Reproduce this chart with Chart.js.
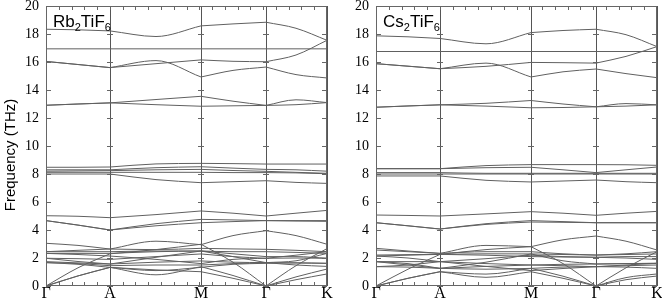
<!DOCTYPE html>
<html>
<head>
<meta charset="utf-8">
<script src="https://cdn.jsdelivr.net/npm/chart.js@4.4.1/dist/chart.umd.min.js"></script>
<style>
body { margin: 0; background: #fff; overflow: hidden; }
#wrap { position: relative; width: 662px; height: 301px; }
.panel { position: absolute; top: 0; width: 345px; height: 301px; }
</style>
</head>
<body>
<div id="wrap">
  <div class="panel" style="left:0"><canvas id="rb" width="345" height="301"></canvas></div>
  <div class="panel" style="left:331px"><canvas id="cs" width="345" height="301"></canvas></div>
</div>
<script>
// high symmetry points along the path
const symLabels = ['Γ', 'A', 'M', 'Γ', 'K'];
const symPos = [0, 64, 155, 220, 281];
// k positions where each branch is sampled: Γ, ½, A, ½, M, ½, Γ, ½, K
const kPath = [0, 32, 64, 110, 155, 187, 220, 250, 281];
const segBreaks = [2, 4, 6]; // indexes of A, M, Γ in kPath
const yTicks = [0, 2, 4, 6, 8, 10, 12, 14, 16, 18, 20];

// Rb2TiF6 phonon branches (THz)
const rbBands = [
  [18.34, 18.30, 18.22, 17.82, 18.58, 18.72, 18.84, 18.41, 17.55],
  [16.94, 16.94, 16.94, 16.94, 16.94, 16.94, 16.94, 16.94, 16.94],
  [16.04, 15.82, 15.60, 15.88, 16.15, 16.05, 16.02, 16.50, 17.55],
  [16.04, 15.82, 15.60, 16.10, 14.93, 15.40, 15.64, 15.10, 14.86],
  [12.91, 13.00, 13.08, 13.32, 13.55, 13.20, 12.90, 13.30, 13.10],
  [12.91, 13.00, 13.08, 12.95, 12.84, 12.87, 12.90, 12.95, 13.10],
  [8.48, 8.48, 8.50, 8.72, 8.76, 8.74, 8.71, 8.71, 8.71],
  [8.30, 8.30, 8.30, 8.45, 8.52, 8.42, 8.33, 8.30, 8.20],
  [8.20, 8.22, 8.24, 8.30, 8.33, 8.25, 8.19, 8.12, 8.05],
  [8.12, 8.12, 8.12, 8.12, 8.12, 8.10, 8.10, 8.08, 8.02],
  [8.00, 8.00, 8.00, 7.60, 7.38, 7.45, 7.52, 7.40, 7.33],
  [5.02, 4.98, 4.88, 5.10, 5.36, 5.20, 5.00, 5.20, 5.40],
  [4.67, 4.35, 4.00, 4.45, 4.76, 4.72, 4.67, 4.67, 4.67],
  [4.67, 4.35, 4.00, 4.30, 4.52, 4.60, 4.67, 4.64, 4.62],
  [3.05, 2.90, 2.64, 3.20, 2.95, 3.60, 3.95, 3.60, 2.98],
  [2.45, 2.55, 2.64, 2.60, 2.69, 2.65, 2.62, 2.55, 2.45],
  [2.45, 2.45, 2.45, 2.50, 2.50, 2.45, 2.45, 2.40, 2.33],
  [2.33, 2.33, 2.33, 2.45, 2.50, 2.30, 2.10, 2.10, 1.98],
  [2.33, 2.25, 2.14, 1.90, 1.60, 1.90, 1.98, 2.00, 1.98],
  [1.98, 1.95, 1.90, 2.10, 2.29, 2.10, 1.98, 2.20, 2.45],
  [1.98, 1.75, 1.57, 2.05, 2.50, 2.10, 1.67, 1.80, 2.33],
  [1.74, 1.65, 1.57, 1.70, 1.79, 1.70, 1.67, 1.65, 1.62],
  [1.67, 1.60, 1.45, 1.50, 1.50, 1.60, 1.67, 1.50, 1.40],
  [1.67, 1.55, 1.33, 1.10, 1.33, 1.55, 1.62, 1.65, 1.62],
  [0, 1.30, 2.30, 2.60, 2.98, 1.70, 0, 1.45, 2.67],
  [0, 0.72, 1.33, 0.80, 1.38, 0.75, 0, 0.65, 1.21],
  [0, 0.72, 1.33, 1.15, 1.02, 0.55, 0, 0.45, 0.86]
];

// Cs2TiF6 phonon branches (THz)
const csBands = [
  [17.87, 17.80, 17.68, 17.30, 18.10, 18.25, 18.34, 17.95, 17.10],
  [16.75, 16.75, 16.75, 16.75, 16.75, 16.75, 16.75, 16.75, 16.75],
  [15.88, 15.70, 15.52, 15.69, 15.97, 15.95, 15.92, 16.40, 17.10],
  [15.88, 15.70, 15.52, 15.92, 14.93, 15.30, 15.50, 15.17, 14.88],
  [12.77, 12.86, 12.94, 13.05, 13.25, 13.00, 12.80, 13.03, 12.94],
  [12.77, 12.86, 12.94, 12.85, 12.73, 12.75, 12.80, 12.85, 12.94],
  [8.38, 8.38, 8.38, 8.60, 8.67, 8.67, 8.67, 8.66, 8.62],
  [8.38, 8.38, 8.38, 8.45, 8.48, 8.30, 8.10, 8.30, 8.50],
  [8.10, 8.10, 8.10, 8.05, 8.05, 8.05, 8.05, 8.05, 8.05],
  [8.00, 8.00, 8.00, 8.00, 8.00, 8.00, 8.00, 8.00, 8.00],
  [7.86, 7.86, 7.86, 7.55, 7.43, 7.50, 7.57, 7.45, 7.38],
  [5.07, 5.04, 5.00, 5.15, 5.31, 5.20, 5.05, 5.20, 5.33],
  [4.52, 4.30, 4.07, 4.45, 4.67, 4.60, 4.52, 4.52, 4.52],
  [4.52, 4.30, 4.07, 4.40, 4.57, 4.55, 4.52, 4.52, 4.52],
  [2.69, 2.50, 2.33, 2.90, 2.81, 3.30, 3.57, 3.20, 2.57],
  [2.57, 2.45, 2.33, 2.45, 2.45, 2.30, 2.21, 2.30, 2.45],
  [2.21, 2.24, 2.26, 2.30, 2.29, 2.25, 2.21, 2.25, 2.29],
  [2.14, 2.20, 2.26, 2.20, 2.10, 2.07, 2.05, 2.10, 2.10],
  [2.14, 2.00, 1.74, 1.95, 2.20, 2.10, 2.05, 2.00, 1.90],
  [1.74, 1.74, 1.74, 1.60, 1.50, 1.55, 1.57, 1.60, 1.62],
  [1.74, 1.50, 1.26, 1.70, 2.29, 1.80, 1.57, 1.60, 1.62],
  [1.38, 1.35, 1.26, 1.40, 1.50, 1.45, 1.38, 1.35, 1.26],
  [1.38, 1.50, 1.74, 1.40, 1.10, 1.25, 1.38, 1.45, 1.50],
  [1.74, 1.60, 1.26, 1.20, 1.26, 1.35, 1.38, 1.50, 1.62],
  [0, 1.20, 2.26, 2.60, 2.81, 1.60, 0, 1.30, 2.45],
  [0, 0.55, 1.02, 0.62, 1.02, 0.55, 0, 0.45, 0.71],
  [0, 0.55, 1.02, 0.85, 1.26, 0.70, 0, 0.60, 0.86]
];

const serif = "'Liberation Serif', 'Times New Roman', serif";
const sans = "'Liberation Sans', Arial, sans-serif";

// split a branch at the symmetry points so each path segment is its own curve
function branchData(band) {
  const pts = [];
  band.forEach((f, i) => {
    pts.push({ x: kPath[i], y: f });
    if (segBreaks.includes(i)) {
      pts.push({ x: kPath[i], y: null });
      pts.push({ x: kPath[i], y: f });
    }
  });
  return pts;
}

const extras = {
  id: 'extras',
  afterDatasetsDraw(chart, args, opts) {
    const { ctx, chartArea: a, scales: { x, y } } = chart;
    ctx.save();
    ctx.lineWidth = 1;
    ctx.strokeStyle = '#666';
    ctx.strokeRect(a.left + 0.5, a.top + 0.5, a.right - a.left - 1, a.bottom - a.top - 1);

    ctx.beginPath();
    const kMax = symPos[symPos.length - 1];
    for (let i = 1; i < 22; i++) {
      const px = Math.round(x.getPixelForValue(kMax * i / 22)) + 0.5;
      ctx.moveTo(px, a.bottom); ctx.lineTo(px, a.bottom - 4);
      ctx.moveTo(px, a.top); ctx.lineTo(px, a.top + 4);
    }
    yTicks.forEach(v => {
      const py = Math.round(y.getPixelForValue(v)) + 0.5;
      ctx.moveTo(a.left, py); ctx.lineTo(a.left + 5, py);
      ctx.moveTo(a.right, py); ctx.lineTo(a.right - 5, py);
      symPos.slice(1, -1).forEach(s => {
        const sx = x.getPixelForValue(s);
        ctx.moveTo(sx - 3, py); ctx.lineTo(sx + 3, py);
      });
    });
    ctx.stroke();

    // compound label with subscripts
    ctx.fillStyle = '#000';
    ctx.textBaseline = 'alphabetic';
    let tx = a.left + 7;
    const ty = a.top + 21;
    opts.parts.forEach(([t, sub]) => {
      ctx.font = (sub ? 11 : 17) + 'px ' + sans;
      ctx.fillText(t, tx, sub ? ty + 4 : ty);
      tx += ctx.measureText(t).width;
    });

    if (opts.yTitle) {
      ctx.translate(11, 155);
      ctx.rotate(-Math.PI / 2);
      ctx.font = '15px ' + sans;
      ctx.textAlign = 'center';
      ctx.textBaseline = 'middle';
      ctx.fillText(opts.yTitle, 0, 0);
    }
    ctx.restore();
  }
};

function makeChart(id, bands, parts, yTitle, leftWidth) {
  return new Chart(document.getElementById(id), {
    type: 'line',
    data: {
      datasets: bands.map(b => ({
        data: branchData(b),
        borderColor: '#606060',
        borderWidth: 1,
        pointRadius: 0,
        fill: false,
        spanGaps: false,
        cubicInterpolationMode: 'monotone'
      }))
    },
    options: {
      responsive: false,
      animation: false,
      devicePixelRatio: 1,
      layout: { padding: { top: 6, right: 345 - 281 - leftWidth, left: 0, bottom: 0 } },
      plugins: {
        legend: { display: false },
        tooltip: { enabled: false },
        extras: { parts: parts, yTitle: yTitle }
      },
      scales: {
        x: {
          type: 'linear',
          min: 0,
          max: symPos[symPos.length - 1],
          afterBuildTicks: s => { s.ticks = symPos.map(v => ({ value: v })); },
          afterFit: s => { s.height = 15; s.paddingLeft = 0; s.paddingRight = 0; },
          ticks: {
            autoSkip: false,
            maxRotation: 0,
            padding: 0,
            color: '#000',
            font: { family: serif, size: 16, lineHeight: 1 },
            callback: (v, i) => symLabels[i]
          },
          grid: { color: '#555', lineWidth: 1, drawTicks: false },
          border: { display: false }
        },
        y: {
          min: 0,
          max: 20,
          afterBuildTicks: s => { s.ticks = yTicks.map(v => ({ value: v })); },
          afterFit: s => { s.width = leftWidth; s.paddingTop = 0; s.paddingBottom = 0; },
          ticks: {
            padding: 7,
            color: '#000',
            font: { family: serif, size: 14, lineHeight: 1 }
          },
          grid: { display: false, drawTicks: false },
          border: { display: false }
        }
      }
    },
    plugins: [extras]
  });
}

makeChart('rb', rbBands, [['Rb', false], ['2', true], ['TiF', false], ['6', true]], 'Frequency (THz)', 46);
makeChart('cs', csBands, [['Cs', false], ['2', true], ['TiF', false], ['6', true]], null, 45);
</script>
</body>
</html>
